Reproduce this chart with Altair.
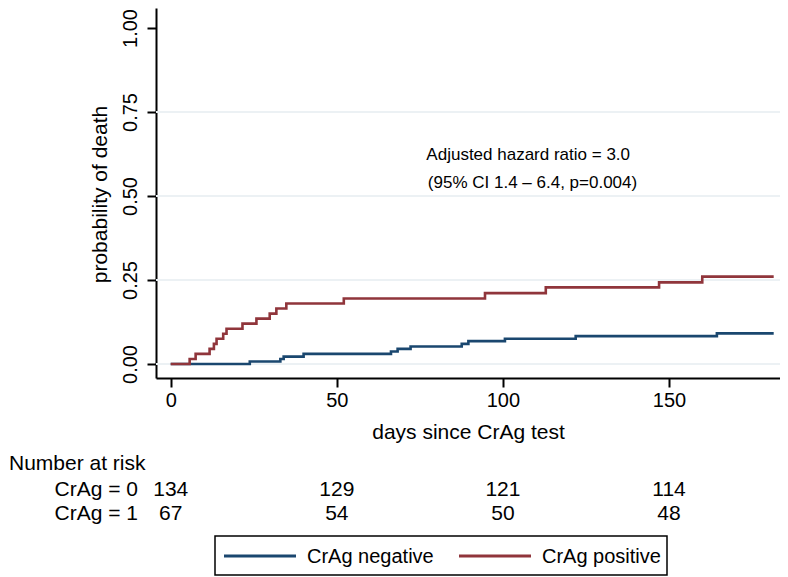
import altair as alt
import pandas as pd

# ---- data ----
series = ["CrAg negative", "CrAg positive"]
colors = ["#1a476f", "#90353b"]

neg_days = [0, 23.8, 33.0, 34.0, 40.0, 66.3, 68.3, 72.2, 87.6, 89.6, 100.6, 121.9, 164.4, 181.5]
neg_prob = [0, 0.0075, 0.015, 0.022, 0.030, 0.037, 0.045, 0.052, 0.060, 0.068, 0.075, 0.083, 0.091, 0.091]

pos_days = [0, 5.7, 7.5, 11.7, 13.0, 13.8, 15.8, 16.8, 21.6, 25.8, 29.8, 31.8, 34.8, 52.1,
            94.6, 112.9, 147.0, 160.0, 181.5]
pos_prob = [0, 0.015, 0.030, 0.045, 0.060, 0.075, 0.090, 0.105, 0.120, 0.135, 0.150, 0.165,
            0.180, 0.195, 0.211, 0.228, 0.243, 0.260, 0.260]

risk_days = [0, 50, 100, 150]
risk_crag0 = [134, 129, 121, 114]
risk_crag1 = [67, 54, 50, 48]
risk_rows = ["CrAg = 0", "CrAg = 1"]
risk_title = "Number at risk"

x_ticks = [0, 50, 100, 150]
y_ticks = [0, 0.25, 0.5, 0.75, 1.0]
grid_vals = [0, 0.25, 0.5, 0.75]

annot_text = ["Adjusted hazard ratio = 3.0", "(95% CI 1.4 \u2013 6.4, p=0.004)"]
annot_day = [107.6, 108.9]
annot_prob = [0.622, 0.539]

FONT = "Liberation Sans"

# ---- tables ----
curves = pd.DataFrame({
    "day": neg_days + pos_days,
    "p": neg_prob + pos_prob,
    "group": [series[0]] * len(neg_days) + [series[1]] * len(pos_days),
})
grid_df = pd.DataFrame({"v": grid_vals})
risk0 = pd.DataFrame({"day": risk_days, "n": risk_crag0})
risk1 = pd.DataFrame({"day": risk_days, "n": risk_crag1})
annot_df = pd.DataFrame({"day": annot_day, "p": annot_prob, "t": annot_text})
one = pd.DataFrame({"k": [0]})

xscale = alt.Scale(domain=[-4.43, 183.4], nice=False, zero=False)
yscale = alt.Scale(domain=[-0.0417, 1.0595], nice=False, zero=False)
cscale = alt.Scale(domain=series, range=colors)

xaxis = alt.Axis(values=x_ticks, title="days since CrAg test",
                 labelFontSize=20, labelFont=FONT, labelBaseline="alphabetic",
                 labelPadding=19, labelColor="black",
                 tickSize=9, tickWidth=2, tickColor="black",
                 domainColor="black", domainWidth=2, grid=False,
                 titleFontSize=21, titleFont=FONT, titleFontWeight="normal",
                 titleColor="black", titleBaseline="alphabetic", titleY=60)
yaxis = alt.Axis(values=y_ticks, format=".2f", title="probability of death",
                 labelFontSize=20, labelFont=FONT, labelAngle=270,
                 labelAlign="center", labelBaseline="alphabetic",
                 labelPadding=11, labelColor="black",
                 tickSize=9, tickWidth=2, tickColor="black",
                 domainColor="black", domainWidth=2, grid=False,
                 titleFontSize=21, titleFont=FONT, titleFontWeight="normal",
                 titleColor="black", titleAngle=270, titleAlign="center",
                 titleBaseline="alphabetic", titleX=-50, titleY=186)

grid = alt.Chart(grid_df).mark_rule(color="#ecf1f4", strokeWidth=2).encode(
    y=alt.Y("v:Q", scale=yscale, axis=yaxis)
)

lines = alt.Chart(curves).mark_line(interpolate="step-after", strokeWidth=2.6).encode(
    x=alt.X("day:Q", scale=xscale, axis=xaxis),
    y=alt.Y("p:Q", scale=yscale, axis=yaxis),
    color=alt.Color("group:N", scale=cscale, legend=None),
)

annot = alt.Chart(annot_df).mark_text(fontSize=17, font=FONT, color="black",
                                      align="center", baseline="middle").encode(
    x=alt.X("day:Q", scale=xscale), y=alt.Y("p:Q", scale=yscale), text="t:N"
)


def txt(df, field, x, y, align, size=21):
    return alt.Chart(df).mark_text(fontSize=size, font=FONT, color="black",
                                   align=align, baseline="alphabetic").encode(
        x=x, y=alt.value(y), text=field
    )


num0 = txt(risk0, "n:Q", alt.X("day:Q", scale=xscale), 487.5, "center")
num1 = txt(risk1, "n:Q", alt.X("day:Q", scale=xscale), 511.5, "center")
title_risk = txt(pd.DataFrame({"t": [risk_title]}), "t:N", alt.value(-147), 462, "left")
row0 = txt(pd.DataFrame({"t": [risk_rows[0]]}), "t:N", alt.value(-18), 487.5, "right")
row1 = txt(pd.DataFrame({"t": [risk_rows[1]]}), "t:N", alt.value(-18), 511.5, "right")

# ---- legend (boxed, below the risk table) ----
legend_box = alt.Chart(one).mark_rect(fill="white", stroke="black", strokeWidth=1.5).encode(
    x=alt.value(59), x2=alt.value(511), y=alt.value(528), y2=alt.value(567)
)
legend_layers = [legend_box]
for i, (name, col) in enumerate(zip(series, colors)):
    x0 = 68 + i * 235
    legend_layers.append(
        alt.Chart(pd.DataFrame({"t": [name]})).mark_rule(color=col, strokeWidth=3).encode(
            x=alt.value(x0), x2=alt.value(x0 + 72), y=alt.value(548)
        )
    )
    legend_layers.append(
        alt.Chart(pd.DataFrame({"t": [name]})).mark_text(
            fontSize=20, font=FONT, color="black", align="left", baseline="alphabetic"
        ).encode(x=alt.value(x0 + 83), y=alt.value(555), text="t:N")
    )

chart = alt.layer(grid, lines, annot, num0, num1, title_risk, row0, row1,
                  *legend_layers).properties(
    width=624, height=370,
    autosize=alt.AutoSizeParams(type="none"),
    padding={"left": 148, "top": 0, "right": 0, "bottom": 198},
    background="white",
).configure(font=FONT).configure_view(stroke=None)

chart.save("out.html", embed_options={"renderer": "svg", "actions": False})
